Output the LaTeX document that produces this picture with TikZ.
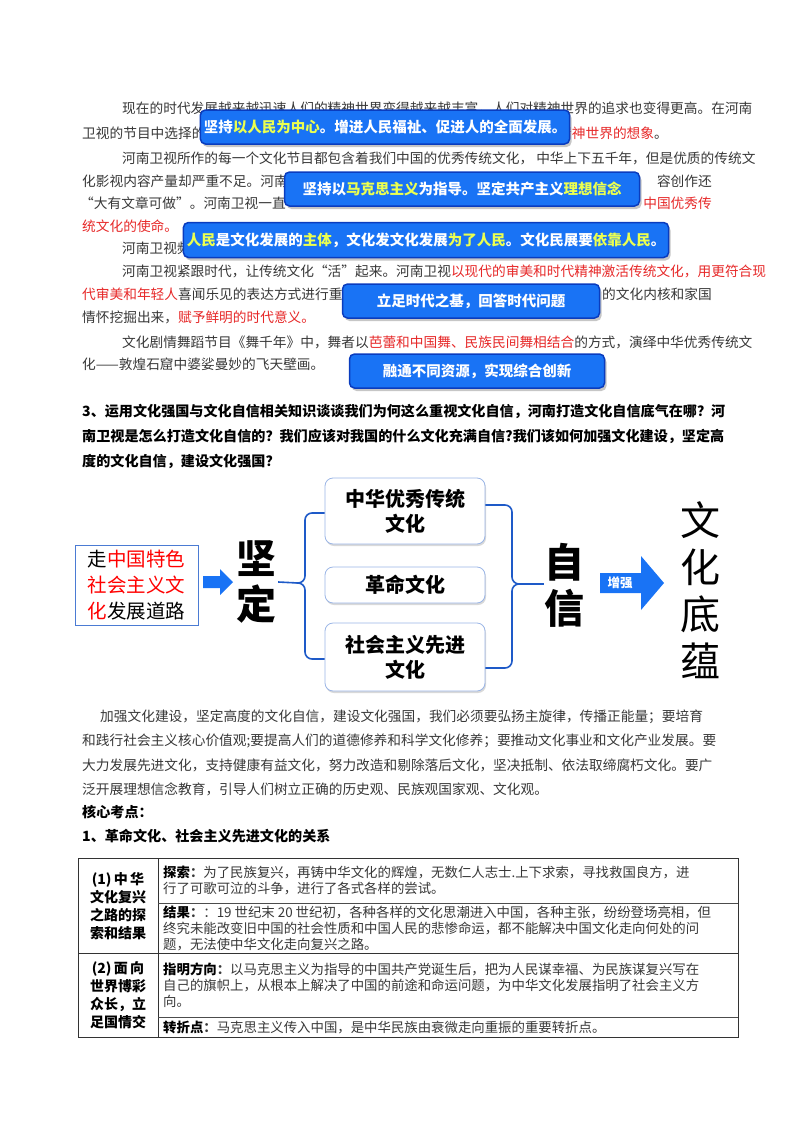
\documentclass[tikz,border=0pt]{standalone}
\usepackage{fontspec}
\setmainfont{Noto Sans CJK SC}
\usetikzlibrary{shadows}
\definecolor{body}{RGB}{55,55,55}
\definecolor{rd}{RGB}{230,40,40}
\definecolor{bx}{RGB}{25,115,245}
\definecolor{bxd}{RGB}{10,60,190}
\definecolor{yl}{RGB}{235,255,80}
\definecolor{brk}{RGB}{30,90,200}
\begin{document}
\begin{tikzpicture}[x=1pt,y=-1pt,
  txt/.style={anchor=west,inner sep=0pt,text=body,font=\fontsize{13.7}{16}\selectfont},
  qtxt/.style={anchor=west,inner sep=0pt,text=black,font=\fontsize{14.1}{16}\selectfont\bfseries},
  bluebox/.style={draw=bxd,line width=1.5pt,fill=bx,rounded corners=5pt,text=white,
     font=\fontsize{14.5}{16}\selectfont\bfseries,drop shadow={shadow xshift=2pt,shadow yshift=-3pt,opacity=0.45}},
  cbox/.style={draw=brk!45,line width=0.8pt,fill=white,rounded corners=8pt,
     font=\fontsize{20}{25}\selectfont\bfseries,align=center,drop shadow={shadow xshift=1pt,shadow yshift=-2pt,opacity=0.3}},
  big/.style={inner sep=0pt,font=\fontsize{40}{46}\selectfont\bfseries,align=center},
  tb/.style={anchor=west,inner sep=0pt,align=left,text=body,font=\fontsize{13.4}{16}\selectfont},
  tl/.style={inner sep=0pt,align=center,text=black,font=\fontsize{14}{18}\selectfont\bfseries},
  brace/.style={draw=brk,line width=1.6pt}]
\useasboundingbox (0,0) rectangle (800,1132);
% body text
\node[txt] (l1) at (122,108) {现在的时代发展越来越迅速人们的精神世界变得越来越丰富，人们对精神世界的追求也变得更高。在河南};
\node[txt] (l2a) at (82,133) {卫视的节目中选择的};
\node[txt,anchor=east] (l2b) at (668,133) {\textcolor{rd}{于精神世界的想象}。};
\node[txt] (l3) at (122,158) {河南卫视所作的每一个文化节目都包含着我们中国的优秀传统文化， 中华上下五千年，但是优质的传统文};
\node[txt] (l4a) at (82,181) {化影视内容产量却严重不足。河南};
\node[txt,anchor=east] (l4b) at (712,181) {容创作还};
\node[txt] (l5a) at (80,203) {“大有文章可做”。河南卫视一直};
\node[txt,anchor=east] (l5b) at (712,203) {\textcolor{rd}{中国优秀传}};
\node[txt] (l6) at (82,226) {\textcolor{rd}{统文化的使命。}};
\node[txt] (l7) at (122,248) {河南卫视频};
\node[txt] (l8) at (122,271) {河南卫视紧跟时代，让传统文化“活”起来。河南卫视\textcolor{rd}{以现代的审美和时代精神激活传统文化，用更符合现}};
\node[txt] (l9a) at (82,294) {\textcolor{rd}{代审美和年轻人}喜闻乐见的表达方式进行重新};
\node[txt,anchor=east] (l9b) at (712,294) {日的文化内核和家国};
\node[txt] (l10) at (82,317) {情怀挖掘出来，\textcolor{rd}{赋予鲜明的时代意义。}};
\node[txt] (l11) at (122,342) {文化剧情舞蹈节目《舞千年》中，舞者以\textcolor{rd}{芭蕾和中国舞、民族民间舞相结合}的方式，演绎中华优秀传统文};
\node[txt] (l12) at (82,364) {化——敦煌石窟中婆娑曼妙的飞天壁画。};
% blue boxes
\node[bluebox,minimum width=343pt,minimum height=34pt] (b1) at (385,127) {坚持\textcolor{yl}{以人民为中心}。增进人民福祉、促进人的全面发展。};
\node[bluebox,minimum width=355pt,minimum height=34pt] (b2) at (462,189) {坚持以\textcolor{yl}{马克思主义}为指导。坚定共产主义\textcolor{yl}{理想信念}};
\node[bluebox,minimum width=477pt,minimum height=35pt] (b3) at (426,240) {\textcolor{yl}{人民}是文化发展的\textcolor{yl}{主体}，文化发文化发展\textcolor{yl}{为了人民}。文化民展要\textcolor{yl}{依靠人民}。};
\node[bluebox,minimum width=257pt,minimum height=34pt] (b4) at (471,301) {立足时代之基，回答时代问题};
\node[bluebox,minimum width=255pt,minimum height=34pt] (b5) at (477,371) {融通不同资源，实现综合创新};
% question
\node[qtxt] (q1) at (82,411) {3、运用文化强国与文化自信相关知识谈谈我们为何这么重视文化自信，河南打造文化自信底气在哪？河};
\node[qtxt] (q2) at (82,436) {南卫视是怎么打造文化自信的？我们应该对我国的什么文化充满自信?我们该如何加强文化建设，坚定高};
\node[qtxt] (q3) at (82,461) {度的文化自信，建设文化强国？};
% diagram
\node[draw=brk!80,line width=0.8pt,minimum width=123pt,minimum height=80pt,align=left,inner sep=2pt,
  font=\fontsize{19.5}{26}\selectfont] (road) at (136.5,585) {走\textcolor{red}{中国特色}\\\textcolor{red}{社会主义文}\\\textcolor{red}{化}发展道路};
\fill[bx] (203,576) -- (220,576) -- (220,569) -- (233,582) -- (220,595) -- (220,588) -- (203,588) -- cycle;
\node[big] (jd) at (256,582) {坚\\定};
\node[cbox,minimum width=160pt,minimum height=66pt] (c1) at (405,511) {中华优秀传统\\文化};
\node[cbox,minimum width=160pt,minimum height=36pt] (c2) at (405,585) {革命文化};
\node[cbox,minimum width=160pt,minimum height=68pt] (c3) at (405,657) {社会主义先进\\文化};
\node[big] (zx) at (564,585) {自\\信};
\fill[bx] (600,573) -- (641,573) -- (641,556) -- (664,583) -- (641,610) -- (641,593) -- (600,593) -- cycle;
\node[text=white,font=\fontsize{12.5}{14}\selectfont\bfseries,inner sep=0pt] (zq) at (620,583) {增强};
\node[inner sep=0pt,align=center,font=\fontsize{40}{47}\selectfont] (dy) at (700,590) {文\\化\\底\\蕴};
% left brace
\draw[brace] (jd.east) ++(2pt,0) -- (298,583);
\draw[brace] (c1.west) ++(0,2) -- (312,513) to[out=180,in=90] (305,520) -- (305,576) to[out=-90,in=0] (298,583) to[out=0,in=90] (305,590) -- (305,652) to[out=-90,in=180] (312,659) -- (c3.west |- 0,659);
% right brace
\draw[brace] (c1.east) ++(0,-6) -- (505,505) to[out=0,in=90] (512,512) -- (512,577) to[out=-90,in=180] (519,584) to[out=180,in=90] (512,591) -- (512,661) to[out=-90,in=0] (505,668) -- (c3.east |- 0,668);
\draw[brace] (519,584) -- (zx.west |- 0,584);
% paragraph
\node[txt] (p1) at (100,717) {加强文化建设，坚定高度的文化自信，建设文化强国，我们必须要弘扬主旋律，传播正能量；要培育};
\node[txt] (p2) at (82,741) {和践行社会主义核心价值观;要提高人们的道德修养和科学文化修养；要推动文化事业和文化产业发展。要};
\node[txt] (p3) at (82,765) {大力发展先进文化，支持健康有益文化，努力改造和剔除落后文化，坚决抵制、依法取缔腐朽文化。要广};
\node[txt] (p4) at (82,789) {泛开展理想信念教育，引导人们树立正确的历史观、民族观国家观、文化观。};
\node[qtxt] (k1) at (82,812) {核心考点：};
\node[qtxt] (k2) at (82,836) {1、革命文化、社会主义先进文化的关系};
% table
\draw[line width=1pt,draw=black!80] (78,858) rectangle (738,1037);
\draw[line width=0.8pt,draw=black!80] (158,858) -- (158,1037);
\draw[line width=0.8pt,draw=black!80] (78,953) -- (738,953);
\draw[line width=0.6pt,draw=black!70] (158,903) -- (738,903);
\draw[line width=0.6pt,draw=black!70] (158,1017) -- (738,1017);
\node[tl] (t1) at (118,906) {(1)\,中\,华\\文化复兴\\之路的探\\索和结果};
\node[tl] (t2) at (118,995) {(2)\,面\,向\\世界博彩\\众长，立\\足国情交};
\node[tb] (r1) at (163,880) {\textbf{\textcolor{black}{探索}：}为了民族复兴，再铸中华文化的辉煌，无数仁人志士.上下求索，寻找救国良方，进\\行了可歌可泣的斗争，进行了各式各样的尝试。};
\node[tb] (r2) at (163,928) {\textbf{\textcolor{black}{结果}：}：19 世纪末 20 世纪初，各种各样的文化思潮进入中国，各种主张，纷纷登场亮相，但\\终究未能改变旧中国的社会性质和中国人民的悲惨命运，都不能解决中国文化走向何处的问\\题，无法使中华文化走向复兴之路。};
\node[tb] (r3) at (163,985) {\textbf{\textcolor{black}{指明方向}：}以马克思主义为指导的中国共产党诞生后，把为人民谋幸福、为民族谋复兴写在\\自己的旗帜上，从根本上解决了中国的前途和命运问题，为中华文化发展指明了社会主义方\\向。};
\node[tb] (r4) at (163,1027) {\textbf{\textcolor{black}{转折点}：}马克思主义传入中国，是中华民族由衰微走向重振的重要转折点。};
\end{tikzpicture}
\end{document}
